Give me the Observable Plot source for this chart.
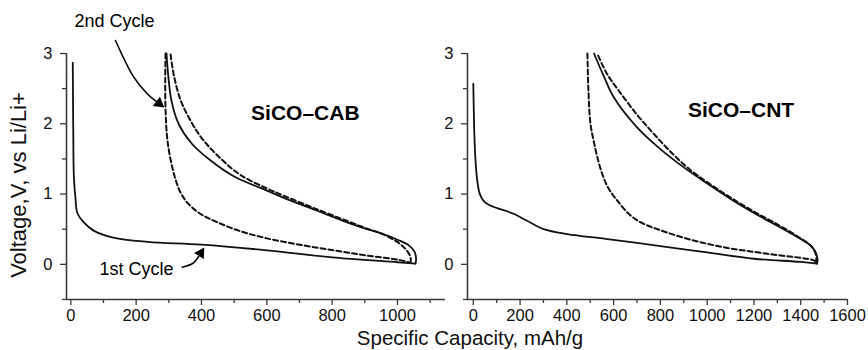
<!DOCTYPE html>
<html><head><meta charset="utf-8">
<script src="https://cdn.jsdelivr.net/npm/d3@7"></script>
<script src="https://cdn.jsdelivr.net/npm/@observablehq/plot@0.6"></script>
<style>
body{margin:0;background:#fff;}
#wrap{position:relative;width:868px;height:350px;overflow:hidden;font-family:"Liberation Sans",Arial,sans-serif;background:#fff;}
#wrap > svg{position:absolute;top:0;}
</style>
</head><body>
<div id="wrap"></div>
<script>
// ---- axes ----
const yDomain = [-0.5, 3];
const yMajor = [0, 1, 2, 3];
const yMinor = [-0.5, 0.5, 1.5, 2.5];
const cabXDomain = [-13.2, 1147];
const cabXMajor = [0, 200, 400, 600, 800, 1000];
const cabXMinor = [100, 300, 500, 700, 900, 1100];
const cntXDomain = [-24.8, 1600];
const cntXMajor = [0, 200, 400, 600, 800, 1000, 1200, 1400, 1600];
const cntXMinor = [100, 300, 500, 700, 900, 1100, 1300, 1500];

// ---- SiCO-CAB ----
const cab1DisCap = [6, 7, 8, 9, 12, 14, 20, 39, 70, 130, 235, 400, 600, 800, 1000, 1055];
const cab1DisV   = [2.87, 2.2, 1.6, 1.3, 1.05, 0.96, 0.73, 0.6, 0.48, 0.38, 0.32, 0.28, 0.2, 0.1, 0.03, 0.01];
const cab1ChaCap = [1055, 1057, 1052, 1035, 1000, 950, 900, 850, 750, 650, 600, 500, 430, 370, 330, 308, 298, 293];
const cab1ChaV   = [0.01, 0.08, 0.18, 0.27, 0.35, 0.44, 0.51, 0.59, 0.77, 0.95, 1.05, 1.25, 1.47, 1.72, 2.0, 2.33, 2.7, 3.0];
const cab2DisCap = [290, 289, 290, 295, 305, 318, 335, 360, 396, 448, 520, 600, 700, 804, 900, 1008, 1040];
const cab2DisV   = [3.0, 2.6, 2.2, 1.8, 1.5, 1.25, 1.03, 0.86, 0.72, 0.6, 0.47, 0.37, 0.28, 0.2, 0.13, 0.06, 0.02];
const cab2ChaCap = [1040, 1040, 1028, 1005, 955, 900, 850, 750, 650, 600, 520, 460, 400, 360, 335, 315, 305];
const cab2ChaV   = [0.02, 0.1, 0.2, 0.3, 0.43, 0.52, 0.61, 0.79, 0.98, 1.08, 1.27, 1.5, 1.8, 2.1, 2.35, 2.7, 3.0];

// ---- SiCO-CNT ----
const cnt1DisCap = [0, 2, 5, 10, 17, 28, 45, 70, 102, 172, 230, 301, 402, 573, 800, 1000, 1200, 1400, 1470];
const cnt1DisV   = [2.57, 2.2, 1.8, 1.45, 1.19, 1.0, 0.9, 0.84, 0.8, 0.72, 0.62, 0.5, 0.43, 0.36, 0.26, 0.17, 0.08, 0.035, 0.01];
const cnt1ChaCap = [1470, 1472, 1465, 1445, 1400, 1300, 1200, 1100, 1000, 900, 800, 700, 600, 555, 516];
const cnt1ChaV   = [0.01, 0.07, 0.16, 0.26, 0.36, 0.55, 0.73, 0.93, 1.15, 1.38, 1.64, 1.95, 2.38, 2.7, 3.0];
const cnt2DisCap = [488, 492, 501, 515, 530, 552, 575, 610, 690, 831, 1045, 1258, 1460, 1466];
const cnt2DisV   = [3.0, 2.5, 2.0, 1.75, 1.53, 1.28, 1.1, 0.93, 0.65, 0.45, 0.26, 0.15, 0.05, 0.02];
const cnt2ChaCap = [1466, 1467, 1462, 1442, 1400, 1300, 1200, 1100, 1000, 929, 850, 771, 700, 620, 570, 530];
const cnt2ChaV   = [0.02, 0.08, 0.17, 0.27, 0.37, 0.57, 0.75, 0.95, 1.17, 1.34, 1.58, 1.86, 2.13, 2.48, 2.72, 3.0];

// ---- annotations (data coordinates) ----
const cabLabel = {x: 718, y: 2.15, text: "SiCO–CAB"};
const cntLabel = {x: 1145, y: 2.19, text: "SiCO–CNT"};
const note2 = {x: 134, y: 3.46, text: "2nd Cycle"};
const note1 = {x: 201, y: -0.07, text: "1st Cycle"};
const arrow2Cap = [136.8, 192.8, 233.9, 261.4];
const arrow2V   = [3.185, 2.663, 2.427, 2.319];
const arrow2Head = {x: 270, y: 2.289, rotate: 128};
const arrow1Cap = [341, 371.6, 384.8, 392.1];
const arrow1V   = [-0.04, 0.008, 0.069, 0.118];
const arrow1Head = {x: 397.6, y: 0.16, rotate: 32};

const xLabel = "Specific Capacity, mAh/g";
const yLabel = "Voltage,V, vs Li/Li+";

const axisColor = "#3a3a3a";
const ink = "#111";
const pts = (c, v) => c.map((d, i) => ({c: d, v: v[i]}));

function panel({left, width, marginLeft, marginRight, xDomain, xMajor, xMinor, curves, extras}) {
  const solid = {x: "c", y: "v", curve: "catmull-rom", stroke: ink, strokeWidth: 1.8};
  const dashed = {...solid, strokeWidth: 2, strokeDasharray: "5,3"};
  const p = Plot.plot({
    width, height: 350,
    marginLeft, marginRight, marginTop: 53, marginBottom: 51,
    x: {domain: xDomain},
    y: {domain: yDomain},
    style: {fontFamily: '"Liberation Sans", Arial, sans-serif', fontSize: "16.5px", color: "#111", background: "none", overflow: "visible"},
    marks: [
      Plot.axisX({ticks: xMajor, tickSize: 6, tickPadding: 4, stroke: axisColor, strokeWidth: 1.3, label: null, tickFormat: d => String(d)}),
      Plot.axisX({ticks: xMinor, tickSize: 4, stroke: axisColor, strokeWidth: 1.3, fill: "none", label: null}),
      Plot.axisY({ticks: yMajor, tickSize: 6, tickPadding: 8, stroke: axisColor, strokeWidth: 1.3, label: null, tickFormat: d => String(d)}),
      Plot.axisY({ticks: yMinor, tickSize: 4, stroke: axisColor, strokeWidth: 1.3, fill: "none", label: null}),
      Plot.ruleY([yDomain[0]], {x1: xDomain[0], x2: xDomain[1], stroke: axisColor, strokeWidth: 1.6}),
      Plot.ruleX([xDomain[0]], {y1: yDomain[0], y2: yDomain[1], stroke: axisColor, strokeWidth: 1.6}),
      Plot.line(pts(...curves.dis1), solid),
      Plot.line(pts(...curves.cha1), solid),
      Plot.line(pts(...curves.dis2), dashed),
      Plot.line(pts(...curves.cha2), dashed),
      Plot.text([curves.label], {x: "x", y: "y", text: "text", fontSize: 21, fontWeight: "bold", fill: "#000"}),
      ...extras
    ]
  });
  p.style.left = left + "px";
  return p;
}

const wrap = document.getElementById("wrap");

const cabExtras = [
  Plot.text([note2, note1], {x: "x", y: "y", text: "text", fontSize: 18, fill: "#000"}),
  Plot.line(pts(arrow2Cap, arrow2V), {x: "c", y: "v", curve: "catmull-rom", stroke: "#000", strokeWidth: 1.6}),
  Plot.line(pts(arrow1Cap, arrow1V), {x: "c", y: "v", curve: "catmull-rom", stroke: "#000", strokeWidth: 1.6}),
  Plot.dot([arrow2Head, arrow1Head], {x: "x", y: "y", rotate: "rotate", symbol: "triangle", r: 4.3, fill: "#000", stroke: "none"})
];

wrap.appendChild(panel({
  left: 0, width: 450, marginLeft: 66, marginRight: 5,
  xDomain: cabXDomain, xMajor: cabXMajor, xMinor: cabXMinor,
  curves: {dis1: [cab1DisCap, cab1DisV], cha1: [cab1ChaCap, cab1ChaV], dis2: [cab2DisCap, cab2DisV], cha2: [cab2ChaCap, cab2ChaV], label: cabLabel},
  extras: cabExtras
}));
wrap.appendChild(panel({
  left: 430, width: 438, marginLeft: 37, marginRight: 21,
  xDomain: cntXDomain, xMajor: cntXMajor, xMinor: cntXMinor,
  curves: {dis1: [cnt1DisCap, cnt1DisV], cha1: [cnt1ChaCap, cnt1ChaV], dis2: [cnt2DisCap, cnt2DisV], cha2: [cnt2ChaCap, cnt2ChaV], label: cntLabel},
  extras: []
}));

// shared axis titles
const overlay = d3.select(wrap).append("svg")
  .attr("width", 868).attr("height", 350)
  .style("left", "0px").style("pointer-events", "none")
  .style("font-family", '"Liberation Sans", Arial, sans-serif');
overlay.append("text").attr("x", 470).attr("y", 345).attr("text-anchor", "middle")
  .attr("font-size", 20.5).attr("fill", "#111").text(xLabel);
overlay.append("text").attr("transform", "translate(25.5,185) rotate(-90)").attr("text-anchor", "middle")
  .attr("font-size", 22).attr("fill", "#111").text(yLabel);
</script>
</body></html>
